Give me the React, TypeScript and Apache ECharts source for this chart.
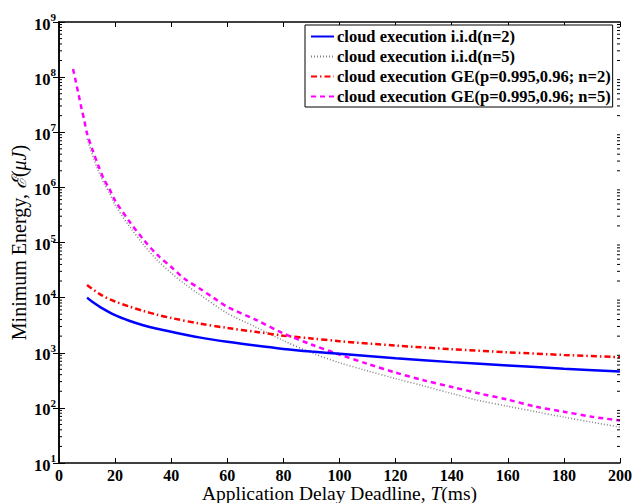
import React, { useEffect, useRef } from "react";
import * as echarts from "echarts";

const T_iid2 = [10, 12, 15, 20, 25, 30, 35, 40, 50, 60, 70, 80, 90, 100, 120, 140, 160, 180, 200];
const E_iid2 = [10000, 8300, 6600, 4800, 3800, 3160, 2720, 2400, 1900, 1580, 1350, 1175, 1050, 955, 795, 676, 590, 513, 457];

const T_iid5 = [10, 12, 14, 16, 18, 20, 25, 30, 35, 40, 45, 50, 60, 70, 80, 90, 100, 110, 120, 130, 140, 150, 160, 170, 180, 190, 200];
const E_iid5 = [7.6e6, 3.8e6, 2.0e6, 1.2e6, 7.9e5, 4.8e5, 2.0e5, 9.3e4, 4.8e4, 2.8e4, 1.74e4, 1.15e4, 5.2e3, 2.95e3, 1.66e3, 1.0e3, 660, 470, 340, 250, 182, 135, 107, 85, 68, 55, 45];

const T_ge2 = [10, 15, 20, 25, 30, 35, 40, 50, 60, 70, 80, 90, 100, 120, 140, 160, 180, 200];
const E_ge2 = [17000, 11200, 8500, 6900, 5750, 4900, 4270, 3390, 2820, 2400, 2040, 1820, 1620, 1350, 1160, 1020, 912, 832];

const T_ge5 = [5, 6, 7, 8, 9, 10, 12, 14, 16, 18, 20, 25, 30, 35, 40, 45, 50, 55, 60, 70, 80, 90, 100, 110, 120, 130, 140, 150, 160, 170, 180, 190, 200];
const E_ge5 = [1.41e8, 8.3e7, 4.8e7, 2.75e7, 1.66e7, 9.5e6, 4.7e6, 2.5e6, 1.41e6, 9.3e5, 5.75e5, 2.45e5, 1.15e5, 6.0e4, 3.6e4, 2.15e4, 1.48e4, 1.0e4, 6.8e3, 4.0e3, 2.24e3, 1.41e3, 930, 630, 437, 316, 240, 182, 141, 105, 85, 69, 59];

const seriesNames = [
  "cloud execution i.i.d(n=2)",
  "cloud execution i.i.d(n=5)",
  "cloud execution GE(p=0.995,0.96; n=2)",
  "cloud execution GE(p=0.995,0.96; n=5)",
];

const X_MIN = 0;
const X_MAX = 200;
const X_INTERVAL = 20;
const Y_MIN = 10;
const Y_MAX = 1e9;

const SERIF = "'Liberation Serif', 'Times New Roman', serif";

function zip(xs: number[], ys: number[]) {
  return xs.map((x, i) => [x, ys[i]]);
}

function minorTickValues(): number[][] {
  const out: number[][] = [];
  for (let e = 1; e < 9; e++) {
    for (let k = 2; k <= 9; k++) out.push([X_MIN, k * Math.pow(10, e)]);
  }
  return out;
}

export default function App() {
  const ref = useRef<HTMLDivElement>(null);
  useEffect(() => {
    if (!ref.current) return;
    const chart = echarts.init(ref.current, undefined, { renderer: "svg" });
    const yLabelFmt = (v: number) => {
      const e = Math.round(Math.log10(v));
      return `{b|10}{s|${e}}`;
    };
    const lineBase = {
      type: "line",
      showSymbol: false,
      symbol: "none",
      smooth: 0.3,
    };
    const option: any = {
      animation: false,
      backgroundColor: "#fff",
      grid: { left: 59, right: 13, top: 22, bottom: 40, containLabel: false, outerBoundsMode: "none" },
      legend: {
        data: seriesNames,
        orient: "vertical",
        left: 305,
        top: 25,
        itemWidth: 23,
        itemHeight: 10,
        itemGap: 3,
        padding: [3, 2, 2, 5],
        backgroundColor: "#fff",
        borderColor: "#000",
        borderWidth: 1,
        itemStyle: { opacity: 0 },
        textStyle: { fontFamily: SERIF, fontWeight: "bold", fontSize: 16.5, lineHeight: 17, color: "#000", padding: [0, 0, 0, -2] },
      },
      xAxis: [
        {
          type: "value",
          min: X_MIN,
          max: X_MAX,
          interval: X_INTERVAL,
          name: "{a|Application Delay Deadline, }{i|T}{a|(ms)}",
          nameLocation: "middle",
          nameGap: 21,
          nameMoveOverlap: false,
          nameTextStyle: {
            lineHeight: 18,
            rich: {
              a: { fontFamily: SERIF, fontSize: 19.5, lineHeight: 18, color: "#000" },
              i: { fontFamily: SERIF, fontSize: 19.5, lineHeight: 18, fontStyle: "italic", color: "#000" },
            },
          },
          axisLine: { lineStyle: { color: "#000", width: 1.5 } },
          axisTick: { inside: true, length: 5, lineStyle: { color: "#000", width: 1 } },
          axisLabel: { fontFamily: SERIF, fontWeight: "bold", fontSize: 16, lineHeight: 14, color: "#000", margin: 5 },
          splitLine: { show: false },
        },
        {
          type: "value",
          position: "top",
          min: X_MIN,
          max: X_MAX,
          interval: X_INTERVAL,
          axisLine: { lineStyle: { color: "#000", width: 1.5 } },
          axisTick: { inside: true, length: 5, lineStyle: { color: "#000", width: 1 } },
          axisLabel: { show: false },
          splitLine: { show: false },
        },
      ],
      yAxis: [
        {
          type: "log",
          logBase: 10,
          min: Y_MIN,
          max: Y_MAX,
          interval: 1,
          name: "{a|Minimum Energy, }{i|ℰ}{a|(}{i|μJ}{a|)}",
          nameLocation: "middle",
          nameGap: 30,
          nameMoveOverlap: false,
          nameTextStyle: {
            rich: {
              a: { fontFamily: SERIF, fontSize: 20, color: "#000" },
              i: { fontFamily: SERIF, fontSize: 20, fontStyle: "italic", color: "#000" },
            },
          },
          axisLine: { lineStyle: { color: "#000", width: 1.5 } },
          axisTick: { inside: true, length: 6, lineStyle: { color: "#000", width: 1 } },
          axisLabel: {
            margin: 3,
            formatter: yLabelFmt,
            rich: {
              b: { fontFamily: SERIF, fontWeight: "bold", fontSize: 16.5, color: "#000", padding: [4, 0, 0, 0] },
              s: { fontFamily: SERIF, fontWeight: "bold", fontSize: 11, color: "#000", verticalAlign: "top" },
            },
          },
          splitLine: { show: false },
        },
        {
          type: "log",
          logBase: 10,
          position: "right",
          min: Y_MIN,
          max: Y_MAX,
          interval: 1,
          axisLine: { lineStyle: { color: "#000", width: 1.5 } },
          axisTick: { inside: true, length: 6, lineStyle: { color: "#000", width: 1 } },
          axisLabel: { show: false },
          splitLine: { show: false },
        },
      ],
      series: [
        {
          ...lineBase,
          name: seriesNames[0],
          data: zip(T_iid2, E_iid2),
          lineStyle: { color: "#0000ff", width: 2.5, type: "solid" },
          itemStyle: { color: "#0000ff" },
          z: 5,
        },
        {
          ...lineBase,
          name: seriesNames[1],
          data: zip(T_iid5, E_iid5),
          lineStyle: { color: "#808080", width: 1.5, type: [1, 2] },
          itemStyle: { color: "#808080" },
          z: 3,
        },
        {
          ...lineBase,
          name: seriesNames[2],
          data: zip(T_ge2, E_ge2),
          lineStyle: { color: "#ff0000", width: 2.5, type: [6, 3, 1.5, 3] },
          itemStyle: { color: "#ff0000" },
          z: 4,
        },
        {
          ...lineBase,
          name: seriesNames[3],
          data: zip(T_ge5, E_ge5),
          lineStyle: { color: "#ff00ff", width: 2.5, type: [5, 4] },
          itemStyle: { color: "#ff00ff" },
          z: 4,
        },
        {
          name: "minorTicks",
          type: "custom",
          silent: true,
          data: minorTickValues(),
          encode: { x: 0, y: 1 },
          renderItem: (params: any, api: any) => {
            const v = api.value(1);
            const l = api.coord([X_MIN, v]);
            const r = api.coord([X_MAX, v]);
            return {
              type: "group",
              children: [
                { type: "line", shape: { x1: l[0], y1: l[1], x2: l[0] + 3, y2: l[1] }, style: { stroke: "#000", lineWidth: 1 } },
                { type: "line", shape: { x1: r[0], y1: r[1], x2: r[0] - 3, y2: r[1] }, style: { stroke: "#000", lineWidth: 1 } },
              ],
            };
          },
          z: 10,
        },
      ],
    };
    chart.setOption(option);
    return () => chart.dispose();
  }, []);
  return (
    <div
      ref={ref}
      style={{ position: "fixed", left: 0, top: 0, width: 633, height: 503, background: "#fff" }}
    />
  );
}
